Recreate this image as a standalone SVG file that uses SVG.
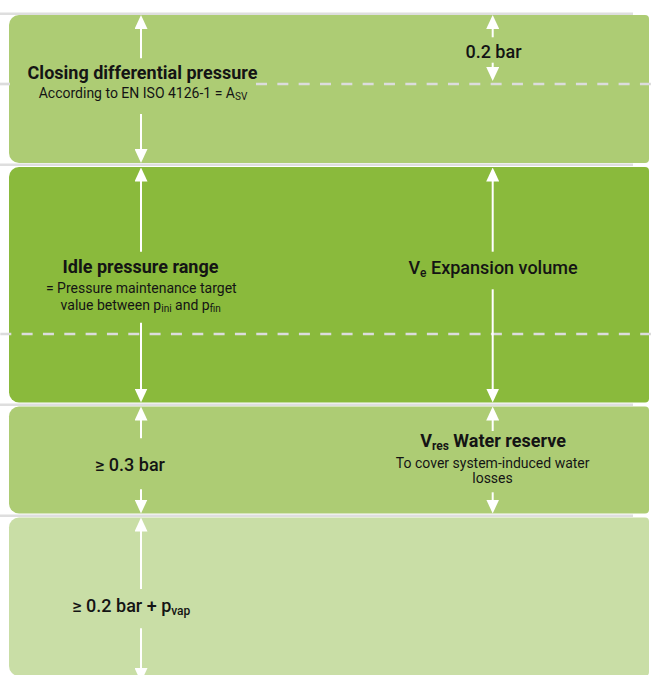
<svg xmlns="http://www.w3.org/2000/svg" width="651" height="675" viewBox="0 0 651 675">
<style>
.sep{stroke:#dedede;stroke-width:2.5;fill:none}
.dash{stroke:#dcdcdc;stroke-width:2.7;stroke-dasharray:11 10.33;fill:none}
.b1{fill:#adcc74}
.b2{fill:#8aba3c}
.b4{fill:#c9dea6}
text{font-family:Roboto,"Liberation Sans",sans-serif;fill:#141414;text-anchor:middle}
.t{font-size:18px;font-weight:700}
.m{font-size:18px;font-weight:500}
.s{font-size:14px;font-weight:400}
.arr{stroke:#fff;stroke-width:2;fill:none;marker-end:url(#ah)}
</style>
<defs>
<marker id="ah" viewBox="0 0 14 13" refX="11" refY="6.5" markerWidth="14" markerHeight="13" markerUnits="userSpaceOnUse" orient="auto">
<path d="M0,0 L14,6.5 L0,13 Z" fill="#fff"/>
</marker>
</defs>
<rect width="651" height="675" fill="#fff"/>
<g id="separators">
<line class="sep" x1="0" y1="13.7" x2="633" y2="13.7"/>
<line class="sep" x1="0" y1="164.8" x2="633" y2="164.8"/>
<line class="sep" x1="0" y1="404.8" x2="633" y2="404.8"/>
<line class="sep" x1="0" y1="515.8" x2="633" y2="515.8"/>
</g>
<g id="closing-differential-pressure">
<path class="b1" d="M19,15 H645 A4,4 0 0 1 649,19 V159 A4,4 0 0 1 645,163 H19 A10,10 0 0 1 9,153 V25 A10,10 0 0 1 19,15 Z"/>
<text class="t" x="142.5" y="79">Closing differential pressure</text>
<text class="s" x="143" y="98">According to EN ISO 4126-1 = A<tspan font-size="10" dy="2">SV</tspan></text>
<text class="m" x="493.5" y="58">0.2 bar</text>
</g>
<g id="idle-pressure-range">
<path class="b2" d="M19,167 H645 A4,4 0 0 1 649,171 V398.5 A4,4 0 0 1 645,402.5 H19 A10,10 0 0 1 9,392.5 V177 A10,10 0 0 1 19,167 Z"/>
<text class="t" x="140.5" y="273">Idle pressure range</text>
<text class="s" x="141.3" y="293">= Pressure maintenance target</text>
<text class="s" x="140.7" y="310">value between p<tspan font-size="10" dy="2">ini</tspan><tspan dy="-2"> and p</tspan><tspan font-size="10" dy="2">fin</tspan></text>
<text class="m" x="493" y="274">V<tspan font-size="12" dy="3">e</tspan><tspan dy="-3"> Expansion volume</tspan></text>
</g>
<g id="water-reserve">
<path class="b1" d="M19,406.5 H645 A4,4 0 0 1 649,410.5 V509.5 A4,4 0 0 1 645,513.5 H19 A10,10 0 0 1 9,503.5 V416.5 A10,10 0 0 1 19,406.5 Z"/>
<text class="m" x="130" y="471">≥ 0.3 bar</text>
<text class="t" x="493" y="447">V<tspan font-size="12" dy="3">res</tspan><tspan dy="-3"> Water reserve</tspan></text>
<text class="s" x="492.7" y="468">To cover system-induced water</text>
<text class="s" x="492.5" y="482.5">losses</text>
</g>
<g id="vapour-pressure">
<path class="b4" d="M19,517.5 H645 A4,4 0 0 1 649,521.5 V672 A4,4 0 0 1 645,676 H19 A10,10 0 0 1 9,666 V527.5 A10,10 0 0 1 19,517.5 Z"/>
<text class="m" x="131.3" y="612">≥ 0.2 bar + p<tspan font-size="12" dy="3">vap</tspan></text>
</g>
<g id="dashed-levels">
<line class="dash" x1="0" y1="84" x2="10" y2="84"/>
<line class="dash" x1="256" y1="84" x2="651" y2="84"/>
<line class="dash" x1="0.3" y1="334" x2="651" y2="334"/>
</g>
<g id="connectors">
<line class="arr" x1="141" y1="58.3" x2="141" y2="18"/>
<line class="arr" x1="141" y1="114" x2="141" y2="160"/>
<line class="arr" x1="492.7" y1="37.3" x2="492.7" y2="18"/>
<line class="arr" x1="492.7" y1="62.7" x2="492.7" y2="78"/>
<line class="arr" x1="141" y1="251.7" x2="141" y2="170.5"/>
<line class="arr" x1="141" y1="322.7" x2="141" y2="399.5"/>
<line class="arr" x1="492.7" y1="251.7" x2="492.7" y2="170.5"/>
<line class="arr" x1="492.7" y1="289.3" x2="492.7" y2="399.5"/>
<line class="arr" x1="141" y1="438.3" x2="141" y2="409.5"/>
<line class="arr" x1="141" y1="489.3" x2="141" y2="510.5"/>
<line class="arr" x1="492.7" y1="431" x2="492.7" y2="409.5"/>
<line class="arr" x1="492.7" y1="492.3" x2="492.7" y2="510.5"/>
<line class="arr" x1="141" y1="589" x2="141" y2="520.5"/>
<line class="arr" x1="141" y1="628.3" x2="141" y2="679"/>
</g>
</svg>
